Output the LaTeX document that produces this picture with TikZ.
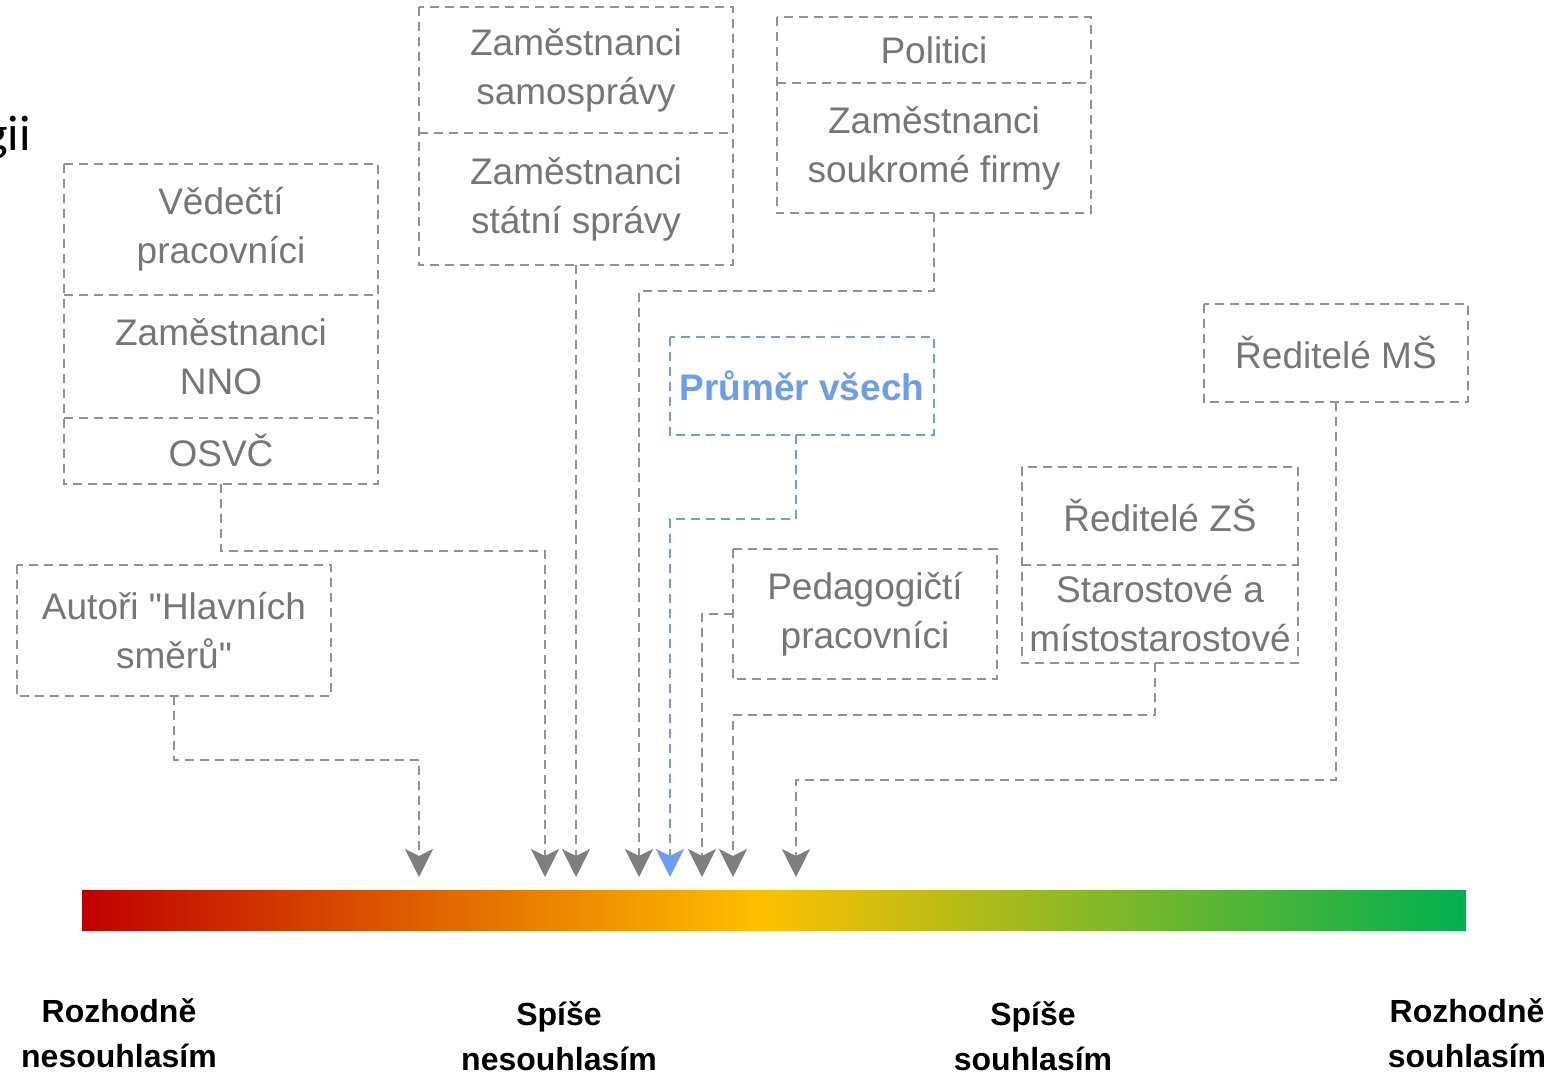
\documentclass[tikz,border=0pt]{standalone}
\usepackage{fontspec}
\setmainfont{Liberation Sans}
\newfontfamily\calibrifont{Carlito}
\usetikzlibrary{arrows.meta}
\newcommand\straightquote{\XeTeXglyph\XeTeXcharglyph"0022\relax}
\definecolor{linegray}{HTML}{929292}
\definecolor{tipgray}{HTML}{7F7F7F}
\definecolor{textgray}{HTML}{767676}
\definecolor{avgblue}{HTML}{6D9EEB}
\definecolor{barred}{HTML}{C00000}
\definecolor{baryellow}{HTML}{FFC000}
\definecolor{bargreen}{HTML}{00B050}
\pgfdeclarehorizontalshading{scalebar}{100bp}{color(0bp)=(barred); color(25bp)=(barred); color(49.5bp)=(baryellow); color(75bp)=(bargreen); color(100bp)=(bargreen)}
\tikzset{
  boxtext/.style={inner sep=0pt, align=center, text=textgray, font=\fontsize{37}{49}\selectfont},
  dashline/.style={dash pattern=on 9pt off 6pt, line width=2.5pt},
  frame/.style={draw=linegray, dashline},
  conn/.style={draw=linegray, dashline, -{Stealth[length=28pt, width=28pt, inset=7pt, color=tipgray]}},
  bconn/.style={draw=avgblue, dashline, -{Stealth[length=28pt, width=28pt, inset=7pt, color=avgblue]}},
  scalelabel/.style={inner sep=0pt, align=center, font=\bfseries\fontsize{32}{45}\selectfont}
}
\begin{document}
\begin{tikzpicture}[x=1pt, y=-1pt]
\useasboundingbox (0,0) rectangle (1567,1073);

% clipped fragment at top left
\node[anchor=base east, inner sep=0pt, font=\calibrifont\fontsize{50}{60}\selectfont] (frag) at (31,150) {gii};

% group A
\node[boxtext, minimum width=314pt, minimum height=131pt] (vedecti) at (221,229.5) {Vědečtí\\pracovníci};
\node[boxtext, minimum width=314pt, minimum height=123pt] (nno) at (221,356.5) {Zaměstnanci\\NNO};
\node[boxtext, minimum width=314pt, minimum height=66pt] (osvc) at (221,451) {OSVČ};
\draw[frame] (vedecti.north west) rectangle (osvc.south east);
\draw[frame] (nno.north west) -- (nno.north east);
\draw[frame] (osvc.north west) -- (osvc.north east);

% Autori
\node[boxtext, minimum width=314pt, minimum height=131pt] (autori) at (174,630.5) {Autoři \straightquote Hlavních\\směrů\straightquote};
\draw[frame] (autori.north west) rectangle (autori.south east);

% group B
\node[boxtext, minimum width=314pt, minimum height=126pt] (samosprava) at (576,70) {Zaměstnanci\\samosprávy};
\node[boxtext, minimum width=314pt, minimum height=132pt] (statni) at (576,199) {Zaměstnanci\\státní správy};
\draw[frame] (samosprava.north west) rectangle (statni.south east);
\draw[frame] (statni.north west) -- (statni.north east);

% group C
\node[boxtext, minimum width=314pt, minimum height=66pt] (politici) at (934,50) {Politici};
\node[boxtext, minimum width=314pt, minimum height=130pt] (soukrome) at (934,148) {Zaměstnanci\\soukromé firmy};
\draw[frame] (politici.north west) rectangle (soukrome.south east);
\draw[frame] (soukrome.north west) -- (soukrome.north east);

% average
\node[inner sep=0pt, align=center, text=avgblue, font=\bfseries\fontsize{37}{49}\selectfont, minimum width=264pt, minimum height=98pt] (prumer) at (802,386) {Průměr všech};
\draw[draw=avgblue, dashline] (prumer.north west) rectangle (prumer.south east);

% pedagogicti
\node[boxtext, minimum width=264pt, minimum height=130pt] (pedag) at (865,614) {Pedagogičtí\\pracovníci};
\draw[frame] (pedag.north west) rectangle (pedag.south east);

% group D
\node[boxtext, minimum width=276pt, minimum height=98pt] (zs) at (1160,516) {Ředitelé ZŠ};
\node[boxtext, minimum width=276pt, minimum height=98pt] (starostove) at (1160,614) {Starostové a\\místostarostové};
\draw[frame] (zs.north west) rectangle (starostove.south east);
\draw[frame] (starostove.north west) -- (starostove.north east);

% MS
\node[boxtext, minimum width=264pt, minimum height=98pt] (ms) at (1336,353) {Ředitelé MŠ};
\draw[frame] (ms.north west) rectangle (ms.south east);

% scale bar
\shade[shading=scalebar] (82,890) rectangle (1466,930);

% arrow tips
\coordinate (t1) at (419,877);
\coordinate (t2) at (545,877);
\coordinate (t3) at (576,877);
\coordinate (t4) at (639,877);
\coordinate (t5) at (670,877);
\coordinate (t6) at (702,877);
\coordinate (t7) at (733,877);
\coordinate (t8) at (796,877);

% connectors
\draw[conn] (autori.south) -- ++(0,64) -| (t1);
\draw[conn] (osvc.south) -- ++(0,67) -| (t2);
\draw[conn] (statni.south) -- (t3);
\draw[conn] (soukrome.south) -- ++(0,78) -| (t4);
\draw[bconn] ([xshift=-6pt]prumer.south) -- ++(0,84) -| (t5);
\draw[conn] (pedag.west) -| (t6);
\draw[conn] ([xshift=-5pt]starostove.south) -- ++(0,52) -| (t7);
\draw[conn] (ms.south) -- ++(0,378) -| (t8);

% scale labels
\node[scalelabel] (l1) at (119,1033) {Rozhodně\\nesouhlasím};
\node[scalelabel] (l2) at (559,1036) {Spíše\\nesouhlasím};
\node[scalelabel] (l3) at (1033,1036) {Spíše\\souhlasím};
\node[scalelabel] (l4) at (1467,1033) {Rozhodně\\souhlasím};
\end{tikzpicture}
\end{document}
